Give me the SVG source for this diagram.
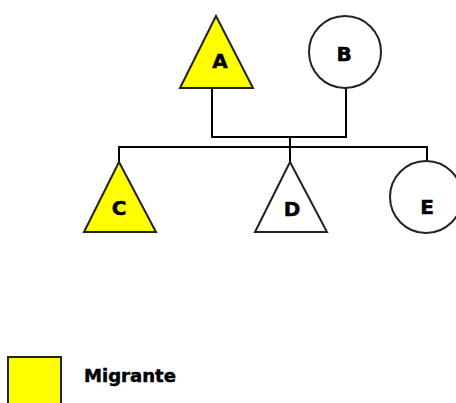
<svg xmlns="http://www.w3.org/2000/svg" width="456" height="403" viewBox="0 0 456 403">
<style>
.n{stroke:#222;stroke-width:2}
.y{fill:#ffff00}
.w{fill:#fff}
.l{fill:none;stroke:#000;stroke-width:2}
text{font-family:"DejaVu Sans",Verdana,sans-serif;font-weight:bold;font-size:20px;fill:#000;stroke:#000;stroke-width:0.5;text-anchor:middle}
</style>
<rect width="456" height="403" fill="#fff"/>
<g id="connectors">
<polyline class="l" points="212,88 212,137 346,137 346,88"/>
<line class="l" x1="290" y1="137" x2="290" y2="162"/>
<polyline class="l" points="119,162 119,147 427,147 427,162"/>
</g>
<g id="A"><polygon class="n y" points="216,16 180,88 253,88"/><text x="220" y="68">A</text></g>
<g id="B"><circle class="n w" cx="345" cy="52" r="36"/><text x="344" y="61">B</text></g>
<g id="C"><polygon class="n y" points="119,162 84,232 156,232"/><text x="119" y="215">C</text></g>
<g id="D"><polygon class="n w" points="290,162 255,232 327,232"/><text x="292" y="216">D</text></g>
<g id="E"><circle class="n w" cx="426" cy="197" r="36"/><text x="427" y="214">E</text></g>
<g id="legend"><rect class="n y" x="8" y="357" width="53" height="50"/><text x="130" y="382" style="font-size:18.5px" textLength="92" lengthAdjust="spacingAndGlyphs">Migrante</text></g>
</svg>
